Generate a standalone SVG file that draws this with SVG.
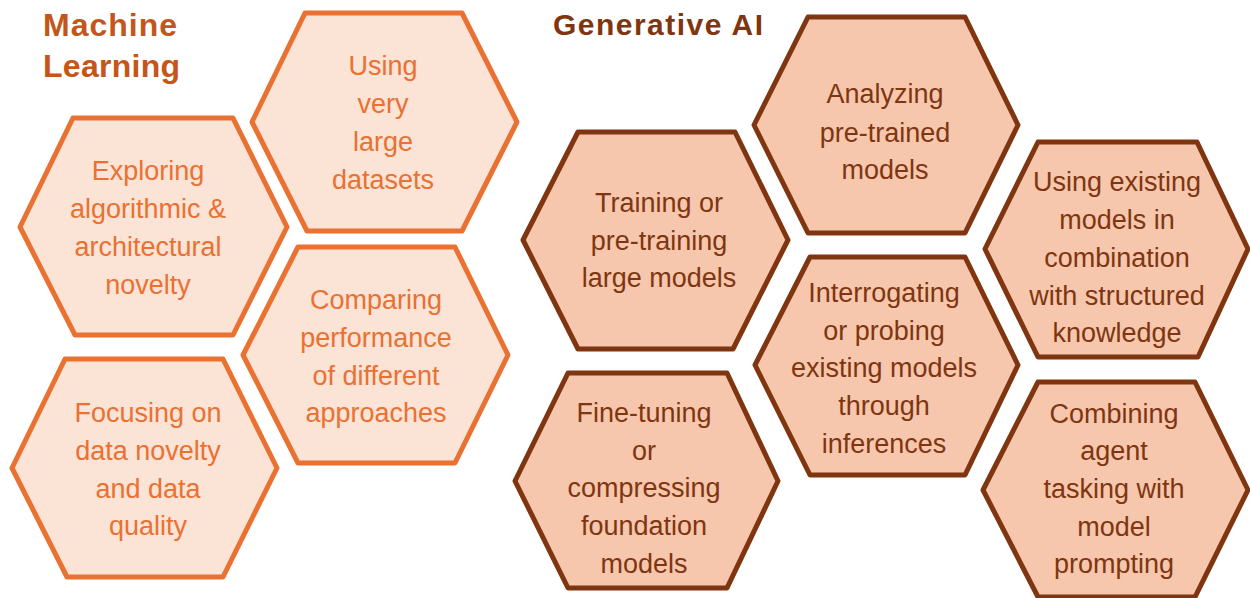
<svg xmlns="http://www.w3.org/2000/svg" width="1250" height="598" viewBox="0 0 1250 598">
<style>
.ml{fill:#FBE3D6;stroke:#E97132;stroke-width:5;stroke-linejoin:round}
.ga{fill:#F6C6AD;stroke:#7F3610;stroke-width:5;stroke-linejoin:round}
.mlt{font-family:"Liberation Sans",Arial,sans-serif;font-size:27px;fill:#E97132;text-anchor:middle}
.gat{font-family:"Liberation Sans",Arial,sans-serif;font-size:27px;fill:#7F3610;text-anchor:middle}
.title{font-family:"Liberation Sans",Arial,sans-serif;font-weight:bold}
</style>
<rect width="1250" height="598" fill="#FFFFFF"/>
<g id="titles">
<text class="title" x="43" y="36" font-size="32" fill="#C4561A" textLength="134" lengthAdjust="spacing">Machine</text>
<text class="title" x="43" y="77" font-size="32" fill="#C4561A" textLength="137" lengthAdjust="spacing">Learning</text>
<text class="title" x="553" y="35" font-size="30" fill="#7F3610" textLength="210" lengthAdjust="spacing">Generative AI</text>
</g>
<g id="node-using-large-datasets">
<polygon class="ml" points="305,13 462,13 517,122 462,231 307,231 252,122"/>
<text class="mlt" x="383" y="75">Using</text>
<text class="mlt" x="383" y="113">very</text>
<text class="mlt" x="383" y="151">large</text>
<text class="mlt" x="383" y="189">datasets</text>
</g>
<g id="node-exploring">
<polygon class="ml" points="73,118 233,118 287,227 233,335 75,335 20,227"/>
<text class="mlt" x="148" y="180">Exploring</text>
<text class="mlt" x="148" y="218">algorithmic &amp;</text>
<text class="mlt" x="148" y="256">architectural</text>
<text class="mlt" x="148" y="294">novelty</text>
</g>
<g id="node-focusing">
<polygon class="ml" points="65,359 223,359 277,468 223,577 67,577 12,468"/>
<text class="mlt" x="148" y="422">Focusing on</text>
<text class="mlt" x="148" y="460">data novelty</text>
<text class="mlt" x="148" y="498">and data</text>
<text class="mlt" x="148" y="535">quality</text>
</g>
<g id="node-comparing">
<polygon class="ml" points="298,247 455,247 508,355 455,463 298,463 243,355"/>
<text class="mlt" x="376" y="309">Comparing</text>
<text class="mlt" x="376" y="347">performance</text>
<text class="mlt" x="376" y="385">of different</text>
<text class="mlt" x="376" y="422">approaches</text>
</g>
<g id="node-training">
<polygon class="ga" points="578,132 735,132 788,240 733,349 578,349 523,240"/>
<text class="gat" x="659" y="212">Training or</text>
<text class="gat" x="659" y="250">pre-training</text>
<text class="gat" x="659" y="287">large models</text>
</g>
<g id="node-analyzing">
<polygon class="ga" points="808,17 965,17 1018,125 965,233 808,233 754,125"/>
<text class="gat" x="885" y="103">Analyzing</text>
<text class="gat" x="885" y="142">pre-trained</text>
<text class="gat" x="885" y="179">models</text>
</g>
<g id="node-using-existing">
<polygon class="ga" points="1038,142 1197,142 1248,249 1198,357 1038,357 985,249"/>
<text class="gat" x="1117" y="191">Using existing</text>
<text class="gat" x="1117" y="229">models in</text>
<text class="gat" x="1117" y="267">combination</text>
<text class="gat" x="1117" y="305">with structured</text>
<text class="gat" x="1117" y="342">knowledge</text>
</g>
<g id="node-interrogating">
<polygon class="ga" points="810,257 965,257 1018,365 965,475 810,475 755,365"/>
<text class="gat" x="884" y="302">Interrogating</text>
<text class="gat" x="884" y="340">or probing</text>
<text class="gat" x="884" y="377">existing models</text>
<text class="gat" x="884" y="415">through</text>
<text class="gat" x="884" y="453">inferences</text>
</g>
<g id="node-fine-tuning">
<polygon class="ga" points="568,373 727,373 778,481 727,588 568,588 515,481"/>
<text class="gat" x="644" y="422">Fine-tuning</text>
<text class="gat" x="644" y="460">or</text>
<text class="gat" x="644" y="497">compressing</text>
<text class="gat" x="644" y="535">foundation</text>
<text class="gat" x="644" y="573">models</text>
</g>
<g id="node-combining">
<polygon class="ga" points="1038,382 1195,382 1248,490 1195,597 1038,597 983,490"/>
<text class="gat" x="1114" y="423">Combining</text>
<text class="gat" x="1114" y="460">agent</text>
<text class="gat" x="1114" y="498">tasking with</text>
<text class="gat" x="1114" y="536">model</text>
<text class="gat" x="1114" y="573">prompting</text>
</g>
<g id="connectors"></g>
</svg>
